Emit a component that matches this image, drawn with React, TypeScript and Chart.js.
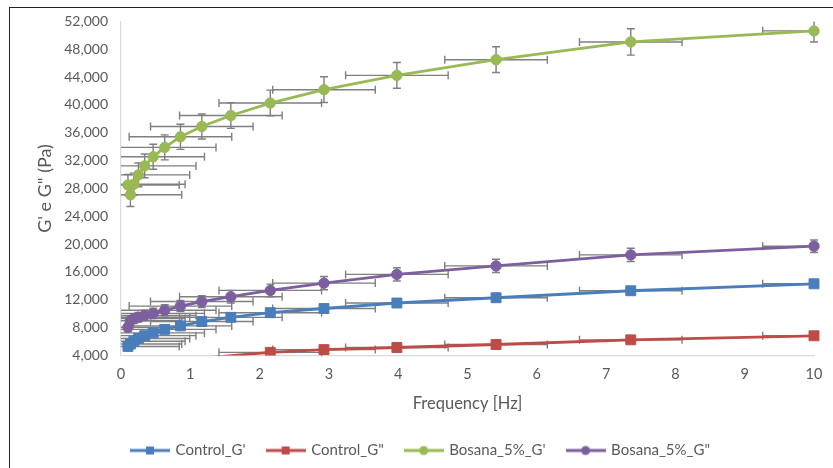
import React, { useEffect, useRef } from 'react';
import { Chart, registerables } from 'chart.js';

Chart.register(...registerables);

// Oscillation frequency sweep (Hz)
const frequencyHz = [0.1, 0.1359, 0.1848, 0.2512, 0.3415, 0.4642, 0.631, 0.8577, 1.166, 1.585, 2.154, 2.929, 3.981, 5.412, 7.356, 10];

// Storage (G') and loss (G") moduli, Pa
const controlGp = [5300, 5650, 6050, 6450, 6850, 7250, 7750, 8250, 8880, 9480, 10150, 10750, 11540, 12300, 13300, 14300];
const controlGpp = [2200, 2400, 2600, 2800, 2950, 3100, 3250, 3400, 3600, 3980, 4450, 4850, 5150, 5580, 6250, 6830];
const bosanaGp = [28500, 27100, 28600, 29950, 31240, 32550, 33900, 35420, 36900, 38480, 40270, 42190, 44250, 46500, 49050, 50640];
const bosanaGpp = [8050, 9000, 9300, 9500, 9750, 10050, 10500, 11100, 11750, 12450, 13350, 14400, 15650, 16870, 18450, 19700];

// Standard deviations of the moduli, Pa
const controlGpErr = [300, 350, 350, 400, 400, 400, 450, 450, 500, 550, 500, 500, 500, 500, 500, 500];
const controlGppErr = [150, 150, 150, 150, 200, 200, 200, 200, 200, 200, 250, 250, 250, 250, 250, 250];
const bosanaGpErr = [1500, 1700, 1600, 1700, 1700, 1800, 1800, 1800, 1800, 1850, 1850, 1850, 1850, 1850, 1900, 1600];
const bosanaGppErr = [600, 700, 700, 700, 750, 750, 800, 800, 850, 900, 900, 950, 950, 950, 950, 900];

// Frequency uncertainty, Hz
const frequencyErr = 0.74;

const seriesNames = ["Control_G'", 'Control_G"', "Bosana_5%_G'", 'Bosana_5%_G"'];
const seriesValues = [controlGp, controlGpp, bosanaGp, bosanaGpp];
const seriesErrors = [controlGpErr, controlGppErr, bosanaGpErr, bosanaGppErr];
const seriesColors = ['#4A7EBB', '#BE4B48', '#98B954', '#7D5FA0'];
const seriesMarkers = ['rect', 'rect', 'circle', 'circle'];

const yTicks = [4000, 52000, 4000]; // min, max, step
const xTicks = [0, 10, 1];

const FONT = 'Lato, "Open Sans", "DejaVu Sans", sans-serif';
const TEXT = '#595959';

function legendSwatch(color: string, marker: string): HTMLCanvasElement {
  const c = document.createElement('canvas');
  c.width = 40;
  c.height = 12;
  const g = c.getContext('2d')!;
  g.strokeStyle = color;
  g.lineWidth = 3;
  g.beginPath();
  g.moveTo(0, 6);
  g.lineTo(40, 6);
  g.stroke();
  g.fillStyle = color;
  if (marker === 'rect') {
    g.fillRect(16, 2, 8, 8);
  } else {
    g.beginPath();
    g.arc(20, 6, 4.5, 0, Math.PI * 2);
    g.fill();
  }
  return c;
}

const errorBars = {
  id: 'errorBars',
  beforeDatasetsDraw(chart: any) {
    const { ctx } = chart;
    const xs = chart.scales.x;
    const ys = chart.scales.y;
    ctx.save();
    ctx.strokeStyle = '#7F7F7F';
    ctx.lineWidth = 1.4;
    const cap = 4;
    chart.data.datasets.forEach((ds: any, i: number) => {
      const errs = seriesErrors[i];
      ds.data.forEach((pt: any, j: number) => {
        if (pt.y < ys.min || pt.y > ys.max) return;
        const px = xs.getPixelForValue(pt.x);
        const py = ys.getPixelForValue(pt.y);
        // horizontal (frequency) bar
        const lo = pt.x - frequencyErr;
        const hi = pt.x + frequencyErr;
        const x1 = xs.getPixelForValue(Math.max(lo, xs.min));
        const x2 = xs.getPixelForValue(Math.min(hi, xs.max));
        ctx.beginPath();
        ctx.moveTo(x1, py);
        ctx.lineTo(x2, py);
        if (lo >= xs.min) {
          ctx.moveTo(x1, py - cap);
          ctx.lineTo(x1, py + cap);
        }
        if (hi <= xs.max) {
          ctx.moveTo(x2, py - cap);
          ctx.lineTo(x2, py + cap);
        }
        // vertical (modulus) bar
        const e = errs[j];
        const bot = pt.y - e;
        const top = pt.y + e;
        const y1 = ys.getPixelForValue(Math.max(bot, ys.min));
        const y2 = ys.getPixelForValue(Math.min(top, ys.max));
        ctx.moveTo(px, y1);
        ctx.lineTo(px, y2);
        if (bot >= ys.min) {
          ctx.moveTo(px - cap, y1);
          ctx.lineTo(px + cap, y1);
        }
        if (top <= ys.max) {
          ctx.moveTo(px - cap, y2);
          ctx.lineTo(px + cap, y2);
        }
        ctx.stroke();
      });
    });
    ctx.restore();
  },
};

export default function App() {
  const canvasRef = useRef<HTMLCanvasElement | null>(null);

  useEffect(() => {
    if (!canvasRef.current) return;
    Chart.defaults.font.family = FONT;
    const swatches = seriesColors.map((c, i) => legendSwatch(c, seriesMarkers[i]));

    const datasets = seriesNames.map((name, i) => ({
      label: name,
      data: frequencyHz.map((f, j) => ({ x: f, y: seriesValues[i][j] })),
      showLine: true,
      borderColor: seriesColors[i],
      backgroundColor: seriesColors[i],
      borderWidth: 2.8,
      pointStyle: seriesMarkers[i],
      pointRadius: (c: any) =>
        c.raw && c.raw.y < yTicks[0] ? 0 : seriesMarkers[i] === 'rect' ? 7 : 5.2,
      pointBorderWidth: 1,
      pointBorderColor: seriesColors[i],
      pointBackgroundColor: seriesColors[i],
      clip: { left: 8, top: 8, right: 10, bottom: 0 },
    }));

    const chart = new Chart(canvasRef.current, {
      type: 'scatter',
      data: { datasets },
      plugins: [errorBars],
      options: {
        animation: false,
        responsive: false,
        events: [],
        layout: { padding: { left: 28, right: 19, top: 21, bottom: 0 } },
        plugins: {
          tooltip: { enabled: false },
          legend: {
            position: 'bottom',
            labels: {
              usePointStyle: true,
              pointStyleWidth: 36,
              padding: 22,
              color: TEXT,
              font: { size: 15, family: FONT },
              generateLabels: () =>
                seriesNames.map((name, i) => ({
                  text: name,
                  fontColor: TEXT,
                  pointStyle: swatches[i],
                  datasetIndex: i,
                  hidden: false,
                  lineWidth: 0,
                  strokeStyle: 'rgba(0,0,0,0)',
                  fillStyle: 'rgba(0,0,0,0)',
                })),
            },
          },
        },
        scales: {
          x: {
            type: 'linear',
            min: xTicks[0],
            max: xTicks[1],
            ticks: { stepSize: xTicks[2], color: TEXT, padding: 10, font: { size: 14.5 } },
            grid: { color: 'rgba(0,0,0,0)', drawTicks: false },
            border: { display: true, color: '#D9D9D9', width: 1.2 },
            title: {
              display: true,
              text: 'Frequency [Hz]',
              color: TEXT,
              font: { size: 16.5 },
              padding: { top: 0, bottom: 7 },
            },
            afterFit: (s: any) => {
              s.height = 65.5;
            },
          },
          y: {
            type: 'linear',
            min: yTicks[0],
            max: yTicks[1],
            ticks: {
              stepSize: yTicks[2],
              color: TEXT,
              padding: 13,
              font: { size: 14 },
              callback: (v: any) => Number(v).toLocaleString('en-US'),
            },
            grid: { color: 'rgba(0,0,0,0)', drawTicks: false },
            border: { display: true, color: '#D9D9D9', width: 1.2 },
            title: {
              display: true,
              text: 'G\' e G" (Pa)',
              color: TEXT,
              font: { size: 18 },
              padding: { top: 6, bottom: 0 },
            },
            afterFit: (s: any) => {
              s.width = 93;
            },
          },
        },
      },
    });
    return () => chart.destroy();
  }, []);

  return (
    <div style={{ position: 'fixed', left: 0, top: 0, width: 833, height: 468, background: '#fff' }}>
      <div
        style={{
          position: 'absolute',
          left: 9,
          top: 7,
          width: 840,
          height: 480,
          borderLeft: '1.5px solid #222',
          borderTop: '1.5px solid #222',
        }}
      />
      <canvas
        ref={canvasRef}
        width={833}
        height={468}
        style={{ position: 'absolute', left: 0, top: 0, width: 833, height: 468 }}
      />
    </div>
  );
}
